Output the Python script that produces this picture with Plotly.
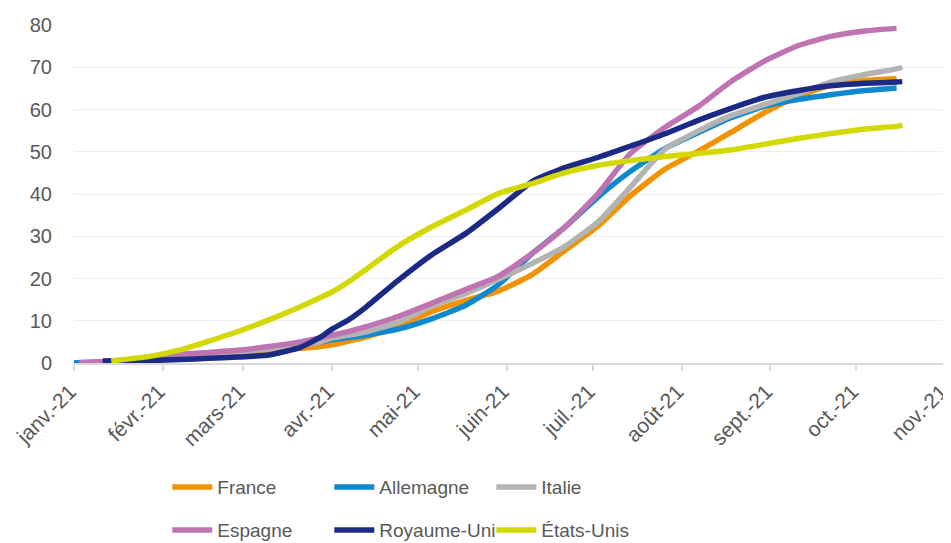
import plotly.graph_objects as go

# dates de lecture (2021) et valeurs (en %)
dates = ["2021-01-01", "2021-01-03", "2021-01-11", "2021-01-14", "2021-01-27",
         "2021-02-07", "2021-02-17", "2021-02-27", "2021-03-10", "2021-03-21",
         "2021-03-28", "2021-04-01", "2021-04-07", "2021-04-13", "2021-04-24",
         "2021-05-06", "2021-05-18", "2021-05-29", "2021-06-10", "2021-06-21",
         "2021-07-03", "2021-07-14", "2021-07-26", "2021-08-07", "2021-08-18",
         "2021-08-30", "2021-09-11", "2021-09-22", "2021-10-04", "2021-10-15",
         "2021-10-17"]

france = [0, 0, 0.1, 0.2, 0.5, 1.0, 1.6, 2.2, 2.8, 3.5, 3.9, 4.3, 5.2, 6.2, 8.6,
          12.2, 14.9, 17.0, 21.0, 26.5, 32.5, 39.5, 45.8, 50.2, 54.5, 59.3, 63.2,
          65.8, 66.9, 67.3, None]
allemagne = [0, 0.1, 0.3, 0.4, 1.0, 1.8, 2.3, 2.8, 3.5, 4.3, 5.0, 5.5, 6.0, 6.6,
             8.0, 10.5, 13.8, 18.5, 26.0, 32.0, 39.4, 45.3, 50.7, 54.6, 58.0, 60.8,
             62.4, 63.5, 64.5, 65.1, None]
italie = [None, 0, 0.2, 0.3, 0.9, 1.6, 2.2, 2.7, 3.3, 4.2, 5.0, 5.9, 6.6, 7.4, 9.6,
          13.5, 16.5, 19.8, 23.6, 27.5, 33.5, 41.5, 50.5, 55.0, 58.5, 61.2, 63.8,
          66.5, 68.3, 69.6, 70.0]
espagne = [None, 0, 0.3, 0.5, 1.2, 2.1, 2.5, 3.0, 3.9, 5.0, 6.0, 6.6, 7.5, 8.6,
           11.0, 14.2, 17.5, 20.5, 26.0, 32.0, 40.2, 49.5, 55.7, 60.8, 66.5, 71.5,
           75.2, 77.3, 78.6, 79.2, None]
royaume_uni = [None, None, 0.5, 0.5, 0.6, 0.8, 1.1, 1.4, 1.9, 3.7, 6.1, 8.0, 10.3,
               13.3, 19.5, 25.7, 30.8, 36.5, 43.0, 46.2, 48.7, 51.3, 54.2, 57.5,
               60.2, 62.9, 64.5, 65.6, 66.2, 66.5, 66.6]
etats_unis = [None, None, None, 0.5, 1.5, 3.1, 5.2, 7.4, 10.2, 13.3, 15.5, 16.8,
              19.3, 22.2, 27.6, 32.3, 36.3, 40.1, 42.5, 45.0, 46.8, 47.9, 48.9,
              49.6, 50.4, 51.8, 53.2, 54.3, 55.4, 56.0, 56.3]

series = [
    ("France", france, "#F39200", "legend"),
    ("Allemagne", allemagne, "#0E89D0", "legend"),
    ("Italie", italie, "#B3B3B3", "legend"),
    ("Espagne", espagne, "#BF73B1", "legend2"),
    ("Royaume-Uni", royaume_uni, "#1B2A84", "legend2"),
    ("États-Unis", etats_unis, "#D3D800", "legend2"),
]

month_ticks = ["2021-01-01", "2021-02-01", "2021-03-01", "2021-04-01", "2021-05-01",
               "2021-06-01", "2021-07-01", "2021-08-01", "2021-09-01", "2021-10-01",
               "2021-11-01"]
month_labels = ["janv.-21", "févr.-21", "mars-21", "avr.-21", "mai-21", "juin-21",
                "juil.-21", "août-21", "sept.-21", "oct.-21", "nov.-21"]

fig = go.Figure()
for name, vals, color, leg in series:
    fig.add_trace(go.Scatter(
        x=dates, y=vals, name=name, mode="lines",
        line=dict(color=color, width=5.5, shape="spline", smoothing=0.5),
        legend=leg,
    ))

font = dict(family="Liberation Sans, Arial, sans-serif", size=20, color="#595959")
legend_font = dict(font, size=19)
legend_common = dict(orientation="h", xanchor="left", yanchor="top",
                     entrywidth=107, entrywidthmode="pixels",
                     font=legend_font, bgcolor="rgba(0,0,0,0)", itemwidth=40)

# the page body adds an 8px offset, so the figure is drawn 8px smaller
fig.update_layout(
    width=943, height=535,
    margin=dict(l=66, r=5, t=17, b=180, autoexpand=False),
    plot_bgcolor="white", paper_bgcolor="white",
    font=font,
    legend=dict(x=0.107, y=-0.311, **legend_common),
    legend2=dict(x=0.107, y=-0.438, **legend_common),
    xaxis=dict(
        type="date", range=["2021-01-01", "2021-11-01 06:00"],
        tickvals=month_ticks, ticktext=month_labels, tickangle=-45,
        showgrid=False, showline=True, linecolor="#D9D9D9", linewidth=2,
        ticks="outside", ticklen=6, tickcolor="#D9D9D9", tickwidth=2,
        tickfont=dict(font, size=21), ticklabeloverflow="allow",
        ticklabelshift=-4,
    ),
    yaxis=dict(
        range=[0, 80], dtick=10, showgrid=True, gridcolor="#EDEDED", gridwidth=1,
        zeroline=False, showline=False, ticks="", tickfont=font,
        ticklabelstandoff=21,
    ),
)

fig.write_html("out.html")
